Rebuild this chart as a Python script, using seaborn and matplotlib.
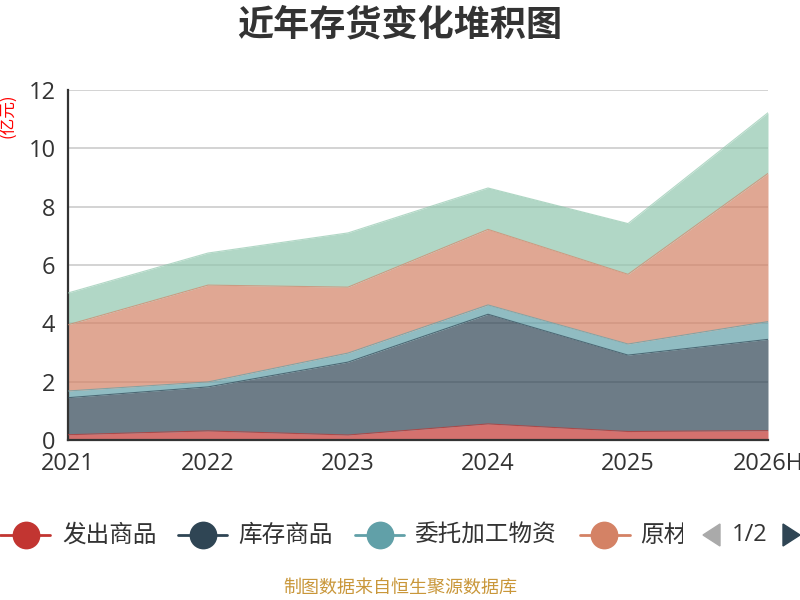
import matplotlib
matplotlib.use("Agg")
import matplotlib.pyplot as plt
from matplotlib.lines import Line2D
from matplotlib.patches import Polygon
from matplotlib.transforms import Bbox, TransformedBbox
import numpy as np
import pandas as pd
import seaborn as sns

# data (亿元)
years = ['2021', '2022', '2023', '2024', '2025', '2026H']
fachu = [0.18, 0.31, 0.17, 0.55, 0.29, 0.32]        # 发出商品
kucun = [1.27, 1.51, 2.50, 3.76, 2.62, 3.13]        # 库存商品
weituo = [0.23, 0.17, 0.31, 0.32, 0.38, 0.61]       # 委托加工物资
yuancailiao = [2.27, 3.32, 2.26, 2.59, 2.39, 5.08]  # 原材料
zaichan = [1.09, 1.10, 1.86, 1.42, 1.74, 2.08]      # 在产品 (legend page 2)

names = ['发出商品', '库存商品', '委托加工物资', '原材料', '在产品']
colors = ['#c23531', '#2f4554', '#61a0a8', '#d48265', '#91c7ae']

df = pd.DataFrame({'year': years, '发出商品': fachu, '库存商品': kucun,
                   '委托加工物资': weituo, '原材料': yuancailiao, '在产品': zaichan})
df['x'] = np.arange(len(df))

sns.set_theme(style='white')
plt.rcParams['font.family'] = ['Noto Sans CJK SC', 'DejaVu Sans']

fig = plt.figure(figsize=(8, 6), dpi=100)
ax = fig.add_axes([0.085, 0.2667, 0.875, 0.5833])

bottom = np.zeros(len(df))
for name, c in zip(names, colors):
    top = bottom + df[name].values
    ax.fill_between(df['x'], bottom, top, color=c, alpha=0.7, linewidth=0, zorder=2)
    sns.lineplot(x=df['x'], y=top, ax=ax, color=c, alpha=0.7, linewidth=0.8, zorder=3)
    bottom = top

ax.set_xlim(0, 5)
ax.set_ylim(0, 12)
ax.set_yticks(range(0, 13, 2))
ax.set_xticks(df['x'])
ax.set_xticklabels(years)
ax.grid(axis='y', color='#cccccc', linewidth=1.2)
ax.set_axisbelow(True)
for s in ['top', 'right']:
    ax.spines[s].set_visible(False)
for s in ['left', 'bottom']:
    ax.spines[s].set_color('#333333')
    ax.spines[s].set_linewidth(1.6)
ax.tick_params(axis='both', colors='#333333', labelsize=17, length=6, width=1.6,
               direction='out', pad=3)
for lab in ax.get_xticklabels() + ax.get_yticklabels():
    lab.set_family(['Open Sans', 'DejaVu Sans'])
ax.set_xlabel('')
ax.set_ylabel('')

fig.text(0.5, 1 - 25 / 600, '近年存货变化堆积图', ha='center', va='center',
         fontsize=26, fontweight='bold', color='#333333')
fig.text(9 / 800, 1 - 116 / 600, '(亿元)', ha='center', va='center', rotation=90,
         fontsize=12, color='red')

# legend (first page only, as in the reference)
ly = 1 - 535 / 600
leg = [(0, 50, 26, 62), (178, 227, 203, 238), (355, 404, 380, 414), (580, 630, 604, 640)]
clip = TransformedBbox(Bbox.from_extents(0, 0, 683 / 800, 1), fig.transFigure)
for (x0, x1, xc, xt), name, c in zip(leg, names, colors):
    fig.add_artist(Line2D([x0 / 800, x1 / 800], [ly, ly], color=c, linewidth=2,
                          transform=fig.transFigure))
    fig.add_artist(Line2D([xc / 800], [ly], marker='o', markersize=20, color=c,
                          markeredgewidth=0, transform=fig.transFigure))
    t = fig.text(xt / 800, ly, name, ha='left', va='center', fontsize=17, color='#333333')
    t.set_clip_box(clip)
    t.set_clip_on(True)

def tri(pts, c):
    fig.add_artist(Polygon([(px / 800, 1 - py / 600) for px, py in pts], closed=True,
                           color=c, transform=fig.transFigure))

tri([(720, 524), (720, 546), (703, 535)], '#aaaaaa')
tri([(783, 524), (783, 546), (800, 535)], '#2f4554')
fig.text(750 / 800, ly, '1/2', ha='center', va='center', fontsize=17, color='#333333',
         family=['Open Sans', 'DejaVu Sans'])

fig.text(0.5, 1 - 588 / 600, '制图数据来自恒生聚源数据库', ha='center', va='center',
         fontsize=13, color='#c9973a')

fig.savefig('out.png', dpi=100)
